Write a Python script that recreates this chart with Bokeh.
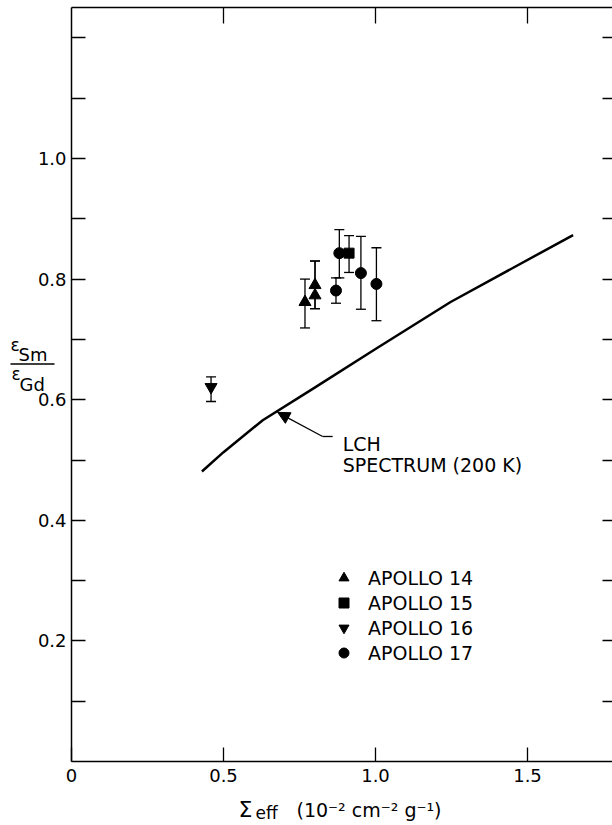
from bokeh.plotting import figure
from bokeh.models import (Range1d, LinearAxis, FixedTicker, Label, Arrow, NormalHead,
                          Legend, LegendItem, CustomJSTickFormatter)
from bokeh.embed import file_html
from bokeh.resources import INLINE

# ---------------- data ----------------
# LCH spectrum (200 K) model curve
curve_x = [0.429, 0.50, 0.629, 0.80, 1.00, 1.247, 1.45, 1.65]
curve_y = [0.481, 0.513, 0.566, 0.620, 0.684, 0.762, 0.818, 0.873]

# Apollo 14 (triangles up)
a14_x = [0.768, 0.801, 0.801]
a14_y = [0.762, 0.790, 0.773]
a14_lo = [0.719, 0.751, 0.751]
a14_hi = [0.800, 0.830, 0.830]

# Apollo 15 (square)
a15_x = [0.913]
a15_y = [0.843]
a15_lo = [0.811]
a15_hi = [0.872]

# Apollo 16 (triangle down)
a16_x = [0.459]
a16_y = [0.621]
a16_lo = [0.597]
a16_hi = [0.638]

# Apollo 17 (circles)
a17_x = [0.870, 0.881, 0.952, 1.003]
a17_y = [0.781, 0.843, 0.810, 0.792]
a17_lo = [0.760, 0.802, 0.750, 0.731]
a17_hi = [0.802, 0.882, 0.871, 0.852]

series_labels = ["APOLLO 14", "APOLLO 15", "APOLLO 16", "APOLLO 17"]

x_ticks = [0, 0.5, 1.0, 1.5]
y_ticks = [0.1, 0.2, 0.3, 0.4, 0.5, 0.6, 0.7, 0.8, 0.9, 1.0, 1.1, 1.2]
y_labelled = [0.2, 0.4, 0.6, 0.8, 1.0]

curve_label_1 = "LCH"
curve_label_2 = "SPECTRUM (200 K)"

# plot box (data units) and the outer ranges that leave room for the axis labels
X_MAX, Y_MAX = 1.778, 1.2504
X_VIEW = (-0.2336, 1.7796)
Y_VIEW = (-0.1061, 1.2620)

FONT = "DejaVu Sans"

# ---------------- figure ----------------
p = figure(width=612, height=825,
           x_range=Range1d(*X_VIEW), y_range=Range1d(*Y_VIEW),
           output_backend="svg", toolbar_location=None,
           x_axis_location=None, y_axis_location=None,
           min_border=0, min_border_left=0, min_border_right=0,
           min_border_top=0, min_border_bottom=0,
           background_fill_color="white", border_fill_color="white")
p.outline_line_color = None
p.grid.visible = False

x_fmt = CustomJSTickFormatter(code="return tick == 0 ? '0' : tick.toFixed(1);")
y_fmt = CustomJSTickFormatter(args=dict(lab=y_labelled), code="""
    for (const v of lab) { if (Math.abs(v - tick) < 1e-6) return tick.toFixed(1); }
    return '';
""")
blank_fmt = CustomJSTickFormatter(code="return '';")

def style_axis(ax, tick_len):
    ax.axis_line_color = "black"
    ax.axis_line_width = 1.5
    ax.major_tick_line_color = "black"
    ax.major_tick_line_width = 1.3
    ax.major_tick_in = tick_len
    ax.major_tick_out = 0
    ax.minor_tick_line_color = None
    ax.major_label_text_font = FONT
    ax.major_label_text_font_size = "18px"
    ax.major_label_text_color = "black"

bottom = LinearAxis(ticker=FixedTicker(ticks=x_ticks), formatter=x_fmt,
                    fixed_location=0, bounds=(0, X_MAX))
style_axis(bottom, 14)
bottom.major_label_standoff = 7
p.add_layout(bottom, "below")

left = LinearAxis(ticker=FixedTicker(ticks=y_ticks), formatter=y_fmt,
                  fixed_location=0, bounds=(0, Y_MAX))
style_axis(left, 14)
left.major_label_standoff = 5
p.add_layout(left, "left")

top = LinearAxis(ticker=FixedTicker(ticks=x_ticks[1:]), formatter=blank_fmt,
                 fixed_location=Y_MAX, bounds=(0, X_MAX))
style_axis(top, 16)
top.major_label_text_font_size = "1px"
top.major_label_standoff = 0
p.add_layout(top, "above")

right = LinearAxis(ticker=FixedTicker(ticks=y_ticks), formatter=blank_fmt,
                   fixed_location=X_MAX, bounds=(0, Y_MAX))
style_axis(right, 10)
right.axis_line_color = None
right.major_label_text_font_size = "1px"
right.major_label_standoff = 0
p.add_layout(right, "right")

# ---------------- model curve ----------------
p.line(curve_x, curve_y, line_color="black", line_width=2.5)

# ---------------- data with error bars ----------------
def errorbars(xs, lo, hi):
    p.segment(x0=xs, y0=lo, x1=xs, y1=hi, line_color="black", line_width=1.3)
    p.scatter(xs, lo, marker="dash", size=10, line_color="black", line_width=1.3)
    p.scatter(xs, hi, marker="dash", size=10, line_color="black", line_width=1.3)

errorbars(a14_x, a14_lo, a14_hi)
errorbars(a15_x, a15_lo, a15_hi)
errorbars(a16_x, a16_lo, a16_hi)
errorbars(a17_x, a17_lo, a17_hi)

r14 = p.scatter(a14_x, a14_y, marker="triangle", size=12, color="black")
r15 = p.scatter(a15_x, a15_y, marker="square", size=10, color="black")
r16 = p.scatter(a16_x, a16_y, marker="inverted_triangle", size=12, color="black")
r17 = p.scatter(a17_x, a17_y, marker="circle", size=11, color="black")

legend = Legend(items=[LegendItem(label=series_labels[0], renderers=[r14]),
                       LegendItem(label=series_labels[1], renderers=[r15]),
                       LegendItem(label=series_labels[2], renderers=[r16]),
                       LegendItem(label=series_labels[3], renderers=[r17])],
                location=(331, 160), glyph_width=25, glyph_height=25, label_height=25,
                spacing=0, padding=0, margin=0, label_standoff=12,
                border_line_color=None, background_fill_alpha=0,
                label_text_font=FONT, label_text_font_size="19px", label_text_color="black")
p.add_layout(legend)

# ---------------- curve annotation ----------------
p.add_layout(Arrow(end=NormalHead(size=12, fill_color="black", line_color="black"),
                   x_start=0.826, y_start=0.539, x_end=0.678, y_end=0.579,
                   line_color="black", line_width=1.3))
p.line([0.826, 0.859], [0.539, 0.539], line_color="black", line_width=1.3)

def text(x, y, s, size):
    p.add_layout(Label(x=x, y=y, text=s, text_font=FONT, text_font_size=size,
                       text_color="black", text_baseline="alphabetic"))

text(0.892, 0.526, curve_label_1, "19px")
text(0.892, 0.491, curve_label_2, "19px")

# y axis label: eps_Sm / eps_Gd
text(-0.2007, 0.690, "ε", "17px")
text(-0.1743, 0.675, "Sm", "18px")
p.line([-0.2007, -0.0559], [0.659, 0.659], line_color="black", line_width=1.5)
text(-0.1974, 0.642, "ε", "17px")
text(-0.171, 0.626, "Gd", "18px")

# x axis label
text(0.549, -0.0796, "Σ", "22px")
text(0.605, -0.0862, "eff", "17px")
text(0.740, -0.0796, "(10⁻² cm⁻² g⁻¹)", "19px")

open("out.html", "w").write(file_html(p, INLINE))
